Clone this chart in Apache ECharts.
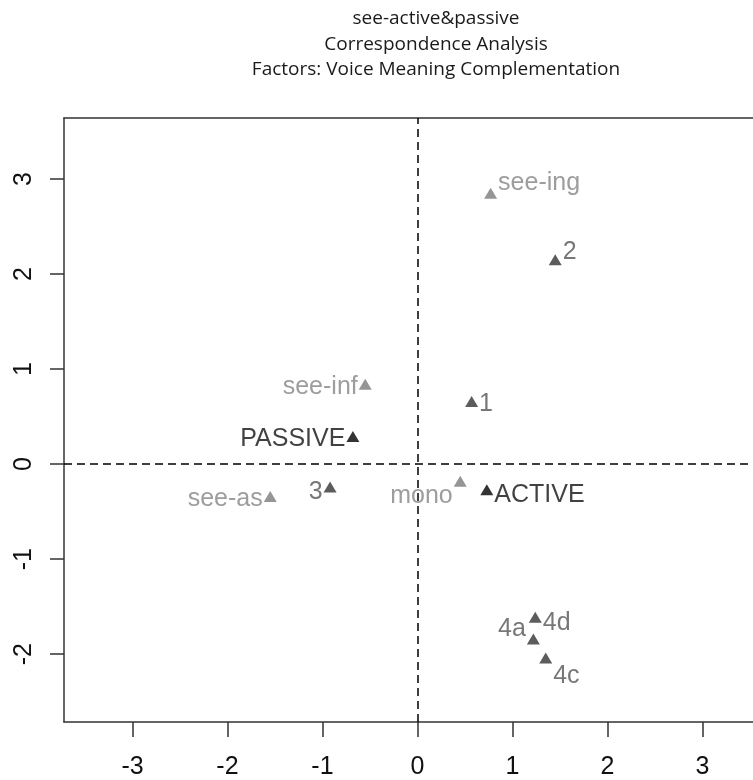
<!DOCTYPE html>
<html>
<head>
<meta charset="utf-8">
<script src="https://cdn.jsdelivr.net/npm/echarts@6/dist/echarts.min.js"></script>
<style>
html,body{margin:0;padding:0;background:#fff;}
#chart{width:753px;height:780px;}
</style>
</head>
<body>
<div id="chart"></div>
<script>
// Tick labels
const xTicks = [-3, -2, -1, 0, 1, 2, 3];
const yTicks = [-2, -1, 0, 1, 2, 3];

// Row points (Meaning / Complementation)
const rowLabels = ['1', '2', '3', '4a', '4c', '4d'];
const rowX = [0.57, 1.45, -0.92, 1.22, 1.35, 1.24];
const rowY = [0.66, 2.15, -0.24, -1.84, -2.04, -1.61];

// Column points (see- forms)
const colLabels = ['see-ing', 'see-inf', 'see-as', 'mono'];
const colX = [0.77, -0.55, -1.55, 0.45];
const colY = [2.85, 0.84, -0.34, -0.18];

// Voice
const voiceLabels = ['ACTIVE', 'PASSIVE'];
const voiceX = [0.73, -0.68];
const voiceY = [-0.27, 0.29];

// label placement (side, vertical shift)
const rowSide = ['right', 'right', 'left', 'left', 'right', 'right'];
const rowDy = [3, -8, 5, -10, 18, 6];
const colSide = ['right', 'left', 'left', 'left'];
const colDy = [-10, 3, 3, 15];
const voiceSide = ['right', 'left'];
const voiceDy = [5, 3];

const labelFont = "'Liberation Sans', Arial, sans-serif";

function build(labels, xs, ys, side, dy, textColor) {
  return labels.map((n, i) => ({
    name: n,
    value: [xs[i], ys[i]],
    label: {
      show: true,
      formatter: n,
      position: side[i],
      distance: 1,
      offset: [0, dy[i]],
      color: textColor,
      fontSize: 25,
      fontFamily: labelFont
    }
  }));
}

const chart = echarts.init(document.getElementById('chart'), null, {renderer: 'canvas'});
chart.setOption({
  animation: false,
  backgroundColor: '#fff',
  title: {
    text: 'see-active&passive\nCorrespondence Analysis\nFactors: Voice Meaning Complementation',
    left: 431,
    top: 1,
    textAlign: 'center',
    textStyle: {
      fontFamily: "'Open Sans', 'Noto Sans', sans-serif",
      fontWeight: 'normal',
      fontSize: 19,
      lineHeight: 25.5,
      color: '#1a1a1a'
    }
  },
  grid: {
    left: 64, top: 118, right: 0, bottom: 58,
    show: false
  },
  xAxis: [{
    type: 'value',
    min: -3.721, max: 3.532,
    splitLine: {show: false},
    axisLine: {show: true, onZero: false, lineStyle: {color: '#333', width: 1.5}},
    axisTick: {show: true, customValues: xTicks, length: 15, lineStyle: {color: '#333', width: 1.5}},
    axisLabel: {
      customValues: xTicks, margin: 33, color: '#111',
      fontSize: 25, fontFamily: labelFont
    }
  }, {
    type: 'value',
    position: 'top',
    min: -3.721, max: 3.532,
    splitLine: {show: false},
    axisLine: {show: true, onZero: false, lineStyle: {color: '#333', width: 1.5}},
    axisTick: {show: false},
    axisLabel: {show: false}
  }],
  yAxis: {
    type: 'value',
    min: -2.713, max: 3.642,
    splitLine: {show: false},
    axisLine: {show: true, onZero: false, lineStyle: {color: '#333', width: 1.5}},
    axisTick: {show: true, customValues: yTicks, length: 14, lineStyle: {color: '#333', width: 1.5}},
    axisLabel: {
      customValues: yTicks, rotate: 90, margin: 27, color: '#111',
      fontSize: 25, fontFamily: labelFont
    }
  },
  series: [
    {
      type: 'scatter',
      name: 'zero',
      data: [],
      markLine: {
        silent: true,
        symbol: ['none', 'none'],
        label: {show: false},
        lineStyle: {color: '#000', type: [8, 5], width: 1.5},
        data: [{xAxis: 0}, {yAxis: 0}]
      }
    },
    {
      type: 'scatter',
      name: 'columns',
      symbol: 'triangle',
      symbolSize: [13, 11],
      itemStyle: {color: '#7a7a7a'},
      data: build(colLabels, colX, colY, colSide, colDy, '#858585')
    },
    {
      type: 'scatter',
      name: 'rows',
      symbol: 'triangle',
      symbolSize: [13, 11],
      itemStyle: {color: '#333'},
      data: build(rowLabels, rowX, rowY, rowSide, rowDy, '#555')
    },
    {
      type: 'scatter',
      name: 'voice',
      symbol: 'triangle',
      symbolSize: [13, 11],
      itemStyle: {color: '#000'},
      data: build(voiceLabels, voiceX, voiceY, voiceSide, voiceDy, '#111')
    }
  ]
});
</script>
</body>
</html>
